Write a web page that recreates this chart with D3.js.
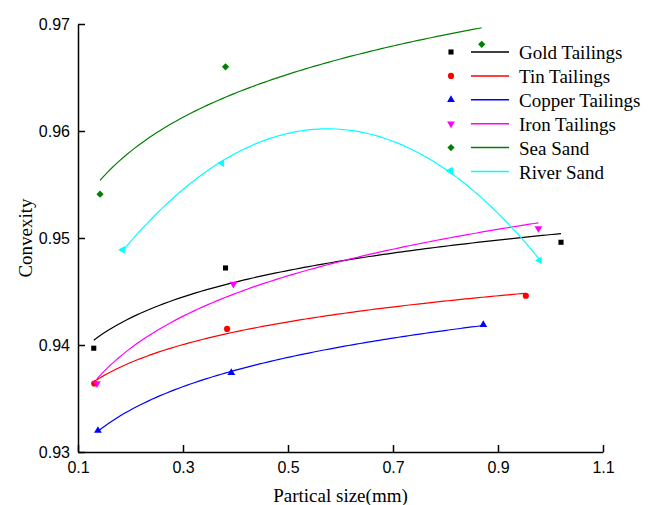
<!DOCTYPE html>
<html lang="en">
    <head>
        <meta charset="utf-8">
        <title>Convexity vs Partical size</title>
        <style>
            body { margin: 0; background: #fff; }
        </style>
    </head>
    <body>

        <svg width="658" height="505"></svg>
        <script src="https://d3js.org/d3.v7.min.js"></script>
        <script>
        var seriesNames = ["Gold Tailings", "Tin Tailings", "Copper Tailings", "Iron Tailings", "Sea Sand", "River Sand"];
        var goldX = [0.130, 0.381, 1.020],   goldY = [0.9397, 0.9472, 0.9496];
        var tinX = [0.131, 0.384, 0.953],    tinY = [0.9364, 0.9415, 0.9446];
        var copperX = [0.138, 0.392, 0.872], copperY = [0.9320, 0.9374, 0.9419];
        var ironX = [0.136, 0.396, 0.977],   ironY = [0.9364, 0.9457, 0.9509];
        var seaX = [0.142, 0.381, 0.869],    seaY = [0.9541, 0.9660, 0.9681];
        var riverX = [0.185, 0.374, 0.809, 0.979], riverY = [0.9489, 0.9570, 0.9563, 0.9479];
        // fit type used for each curve
        var fitTypes = ["log", "log", "log", "log", "log", "poly2"];
        var xTicks = [0.1, 0.3, 0.5, 0.7, 0.9, 1.1];
        var yTicks = [0.93, 0.94, 0.95, 0.96, 0.97];

        var colors = ["#000000", "#ff0000", "#0000ff", "#ff00ff", "#008000", "#00ffff"];
        var symbols = [
          {type: d3.symbolSquare, size: 26, rot: 0},
          {type: d3.symbolCircle, size: 30, rot: 0},
          {type: d3.symbolTriangle, size: 26, rot: 0},
          {type: d3.symbolTriangle, size: 26, rot: 180},
          {type: d3.symbolSquare, size: 26, rot: 45},
          {type: d3.symbolTriangle, size: 26, rot: -90}
        ];

        var allX = [goldX, tinX, copperX, ironX, seaX, riverX],
            allY = [goldY, tinY, copperY, ironY, seaY, riverY];

        var series = seriesNames.map(function(name, i) {
          return {
            name: name,
            color: colors[i],
            symbol: symbols[i],
            fit: fitTypes[i],
            points: allX[i].map(function(x, j) { return {x: x, y: allY[i][j]}; })
          };
        });

        var svg = d3.select("svg"),
            margin = {top: 24, right: 55, bottom: 53, left: 78},
            width = +svg.attr("width") - margin.left - margin.right,
            height = +svg.attr("height") - margin.top - margin.bottom,
            g = svg.append("g").attr("transform", "translate(" + margin.left + "," + margin.top + ")");

        var x = d3.scaleLinear().domain([0.1, 1.1]).range([0, width]);
        var y = d3.scaleLinear().domain([0.93, 0.97]).range([height, 0]);

        // least squares: y = a + b ln(x)
        function logFit(pts) {
          var n = pts.length,
              mx = d3.mean(pts, function(p) { return Math.log(p.x); }),
              my = d3.mean(pts, function(p) { return p.y; }),
              sxy = 0, sxx = 0;
          pts.forEach(function(p) {
            var dx = Math.log(p.x) - mx;
            sxy += dx * (p.y - my);
            sxx += dx * dx;
          });
          var b = sxy / sxx, a = my - b * mx;
          return function(v) { return a + b * Math.log(v); };
        }

        // least squares: y = c0 + c1 x + c2 x^2
        function polyFit(pts) {
          var S = [0, 0, 0, 0, 0], T = [0, 0, 0];
          pts.forEach(function(p) {
            for (var k = 0; k < 5; k++) S[k] += Math.pow(p.x, k);
            for (var k2 = 0; k2 < 3; k2++) T[k2] += p.y * Math.pow(p.x, k2);
          });
          var A = [[S[0], S[1], S[2], T[0]], [S[1], S[2], S[3], T[1]], [S[2], S[3], S[4], T[2]]];
          for (var i = 0; i < 3; i++) {
            for (var r = i + 1; r < 3; r++) {
              var f = A[r][i] / A[i][i];
              for (var c = i; c < 4; c++) A[r][c] -= f * A[i][c];
            }
          }
          var coef = [0, 0, 0];
          for (var i2 = 2; i2 >= 0; i2--) {
            var s = A[i2][3];
            for (var c2 = i2 + 1; c2 < 3; c2++) s -= A[i2][c2] * coef[c2];
            coef[i2] = s / A[i2][i2];
          }
          return function(v) { return coef[0] + coef[1] * v + coef[2] * v * v; };
        }

        var line = d3.line()
            .x(function(d) { return x(d.x); })
            .y(function(d) { return y(d.y); });

        series.forEach(function(s) {
          var f = s.fit === "log" ? logFit(s.points) : polyFit(s.points),
              ext = d3.extent(s.points, function(p) { return p.x; }),
              curve = d3.range(0, 101).map(function(k) {
                var v = ext[0] + (ext[1] - ext[0]) * k / 100;
                return {x: v, y: f(v)};
              });

          g.append("path")
              .datum(curve)
              .attr("fill", "none")
              .attr("stroke", s.color)
              .attr("stroke-width", 1.2)
              .attr("d", line);

          g.selectAll(null)
              .data(s.points)
            .enter().append("path")
              .attr("fill", s.color)
              .attr("transform", function(d) {
                return "translate(" + x(d.x) + "," + y(d.y) + ") rotate(" + s.symbol.rot + ")";
              })
              .attr("d", d3.symbol().type(s.symbol.type).size(s.symbol.size));
        });

        // axes, ticks pointing inward
        var xAxis = g.append("g")
            .attr("transform", "translate(0," + height + ")")
            .call(d3.axisBottom(x).tickValues(xTicks).tickFormat(d3.format(".1f"))
              .tickSizeInner(-7).tickSizeOuter(0).tickPadding(10));

        var yAxis = g.append("g")
            .call(d3.axisLeft(y).tickValues(yTicks).tickFormat(d3.format(".2f"))
              .tickSizeInner(-7).tickSizeOuter(0).tickPadding(8));

        [xAxis, yAxis].forEach(function(a) {
          a.select(".domain").attr("stroke-width", 1.5);
          a.selectAll(".tick line").attr("stroke-width", 1.5);
          a.selectAll(".tick text")
              .attr("font-family", "'Liberation Sans', Arial, sans-serif")
              .attr("font-size", 16)
              .attr("fill", "#000");
        });

        svg.append("text")
            .attr("x", margin.left + width / 2)
            .attr("y", 502)
            .attr("text-anchor", "middle")
            .attr("font-family", "'Liberation Serif', 'Times New Roman', serif")
            .attr("font-size", 19)
            .text("Partical size(mm)");

        svg.append("text")
            .attr("transform", "translate(32," + (margin.top + height / 2) + ") rotate(-90)")
            .attr("text-anchor", "middle")
            .attr("font-family", "'Liberation Serif', 'Times New Roman', serif")
            .attr("font-size", 19)
            .text("Convexity");

        // legend
        var legend = svg.append("g").attr("transform", "translate(451,52)");
        var row = legend.selectAll("g")
            .data(series)
          .enter().append("g")
            .attr("transform", function(d, i) { return "translate(0," + (i * 23.9) + ")"; });

        row.append("path")
            .attr("fill", function(d) { return d.color; })
            .attr("transform", function(d) { return "rotate(" + d.symbol.rot + ")"; })
            .attr("d", function(d) { return d3.symbol().type(d.symbol.type).size(d.symbol.size)(); });

        row.append("line")
            .attr("x1", 20).attr("x2", 58)
            .attr("stroke", function(d) { return d.color; })
            .attr("stroke-width", 1.5);

        row.append("text")
            .attr("x", 68)
            .attr("y", 7)
            .attr("font-family", "'Liberation Serif', 'Times New Roman', serif")
            .attr("font-size", 19)
            .text(function(d) { return d.name; });
        </script>

    </body>
</html>
